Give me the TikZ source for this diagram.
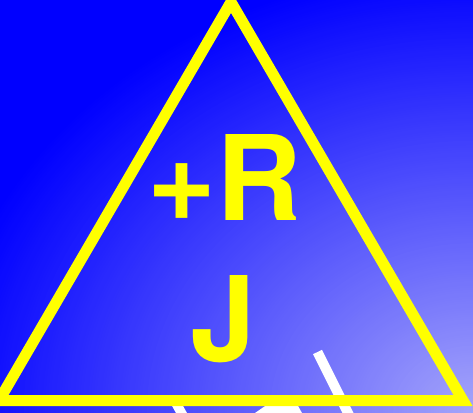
\documentclass[tikz,border=0pt]{standalone}
\usepackage{fontspec}
\setmainfont{TeX Gyre Heros}
\definecolor{bglight}{RGB}{165,165,250}
\definecolor{bgdark}{RGB}{0,0,255}
\definecolor{triyellow}{RGB}{255,255,0}
\tikzset{
  tri/.style={draw=triyellow, line width=11bp, line join=miter},
  bigtext/.style={text=triyellow, font=\bfseries\fontsize{118bp}{118bp}\selectfont, inner sep=0pt, anchor=base west},
  whiteshape/.style={fill=white, draw=none}
}
\begin{document}
\begin{tikzpicture}[x=1bp,y=-1bp]
\useasboundingbox (0,0) rectangle (473,412);
\clip (0,0) rectangle (473,412);
\fill[bgdark] (0,0) rectangle (473,412);
\foreach \f in {1.000,0.995,...,0.004}{
  \pgfmathsetmacro\q{100*(1-\f)}
  \pgfmathsetmacro\rx{535*\f}
  \pgfmathsetmacro\ry{445*\f}
  \fill[bglight!\q!bgdark] (473,412) ellipse (\rx bp and \ry bp);
}
% white shapes partly hidden
\fill[whiteshape] (313,354.2) -- (322,349.8) -- (354,414) -- (345,418) -- cycle;
\fill[whiteshape] (171,404) -- (182,404) -- (187,413) -- (176,413) -- cycle;
\fill[whiteshape] (255,413) -- (268,404) -- (297,404) -- (302,413) -- cycle;
% triangle
\coordinate (apex) at (231,2);
\coordinate (bl) at (-1,400.5);
\coordinate (br) at (463,400.5);
\draw[tri] (apex) -- (bl) -- (br) -- cycle;
\node[bigtext] (plusr) at (147.3,220) {+R};
\node[bigtext] (jay) at (190.4,361) {J};
\end{tikzpicture}
\end{document}
